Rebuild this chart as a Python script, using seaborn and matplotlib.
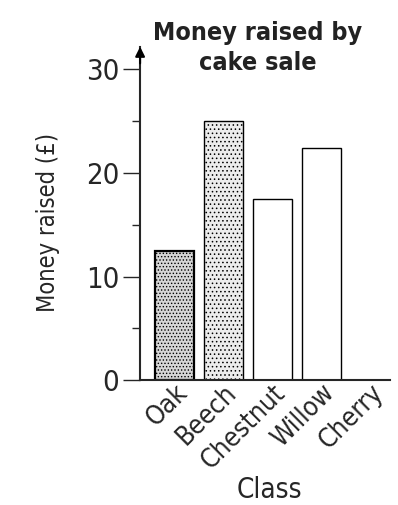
import numpy as np
import pandas as pd
import matplotlib
matplotlib.use('Agg')
import matplotlib.pyplot as plt
import matplotlib.transforms as mtransforms
import seaborn as sns

# data
classes = ['Oak', 'Beech', 'Chestnut', 'Willow', 'Cherry']
money = [12.5, 25, 17.5, 22.4, 0]

df = pd.DataFrame({'Class': classes, 'Money': money})

sns.set_style('white')
plt.rcParams['font.family'] = ['DejaVu Sans']
plt.rcParams['font.stretch'] = 'condensed'
plt.rcParams['hatch.color'] = '#555555'
plt.rcParams['hatch.linewidth'] = 0.6

fig = plt.figure(figsize=(3.98, 5.05), dpi=100)
ax = fig.add_axes([0.352, 0.2475, 0.628, 0.66])

sns.barplot(data=df, x='Class', y='Money', ax=ax, width=0.8,
            color='white', edgecolor='black', linewidth=1.0, saturation=1)

# dotted shading like the print
faces = ['#d6d6d6', '#ececec', 'white', 'white', 'white']
hatches = ['.....', '....', '', '', '']
for bar, fc, h in zip(ax.patches, faces, hatches):
    bar.set_facecolor(fc)
    bar.set_hatch(h)
ax.patches[0].set_linewidth(1.6)

ax.set_ylim(0, 32.2)
ax.set_xlim(-0.7, 4.4)
ax.set_yticks([0, 10, 20, 30])
ax.set_yticks([5, 15, 25], minor=True)
ax.tick_params(axis='y', which='major', length=12, width=1, labelsize=21, pad=3, left=True)
ax.tick_params(axis='y', which='minor', length=6, width=1, left=True)
ax.tick_params(axis='x', length=0, labelsize=19, pad=0)
shift = mtransforms.ScaledTranslation(0.0, 0.0, fig.dpi_scale_trans)
for lab in ax.get_xticklabels():
    lab.set_rotation(45)
    lab.set_ha('right')
    lab.set_va('top')
    lab.set_rotation_mode('anchor')
    lab.set_transform(lab.get_transform() + shift)

sns.despine(ax=ax)
ax.spines['left'].set_linewidth(1.5)
ax.spines['bottom'].set_linewidth(1.5)

# arrow head at the top of the y axis
ax.annotate('', xy=(0, 1.0), xycoords='axes fraction', xytext=(0, 0.95),
            arrowprops=dict(arrowstyle='-|>', color='black', lw=1.5,
                            mutation_scale=14, shrinkA=0, shrinkB=0))

ax.set_xlabel('')
ax.set_ylabel('')
fig.text(0.678, 0.03, 'Class', ha='center', va='center', fontsize=20)
fig.text(0.12, 0.56, 'Money raised (£)', ha='center', va='center',
         rotation=90, fontsize=17)

fig.text(0.648, 0.905, 'Money raised by\ncake sale', ha='center', va='center',
         fontsize=18, fontweight='bold', linespacing=1.3, color='#222222')

fig.savefig('out.png', dpi=100)
